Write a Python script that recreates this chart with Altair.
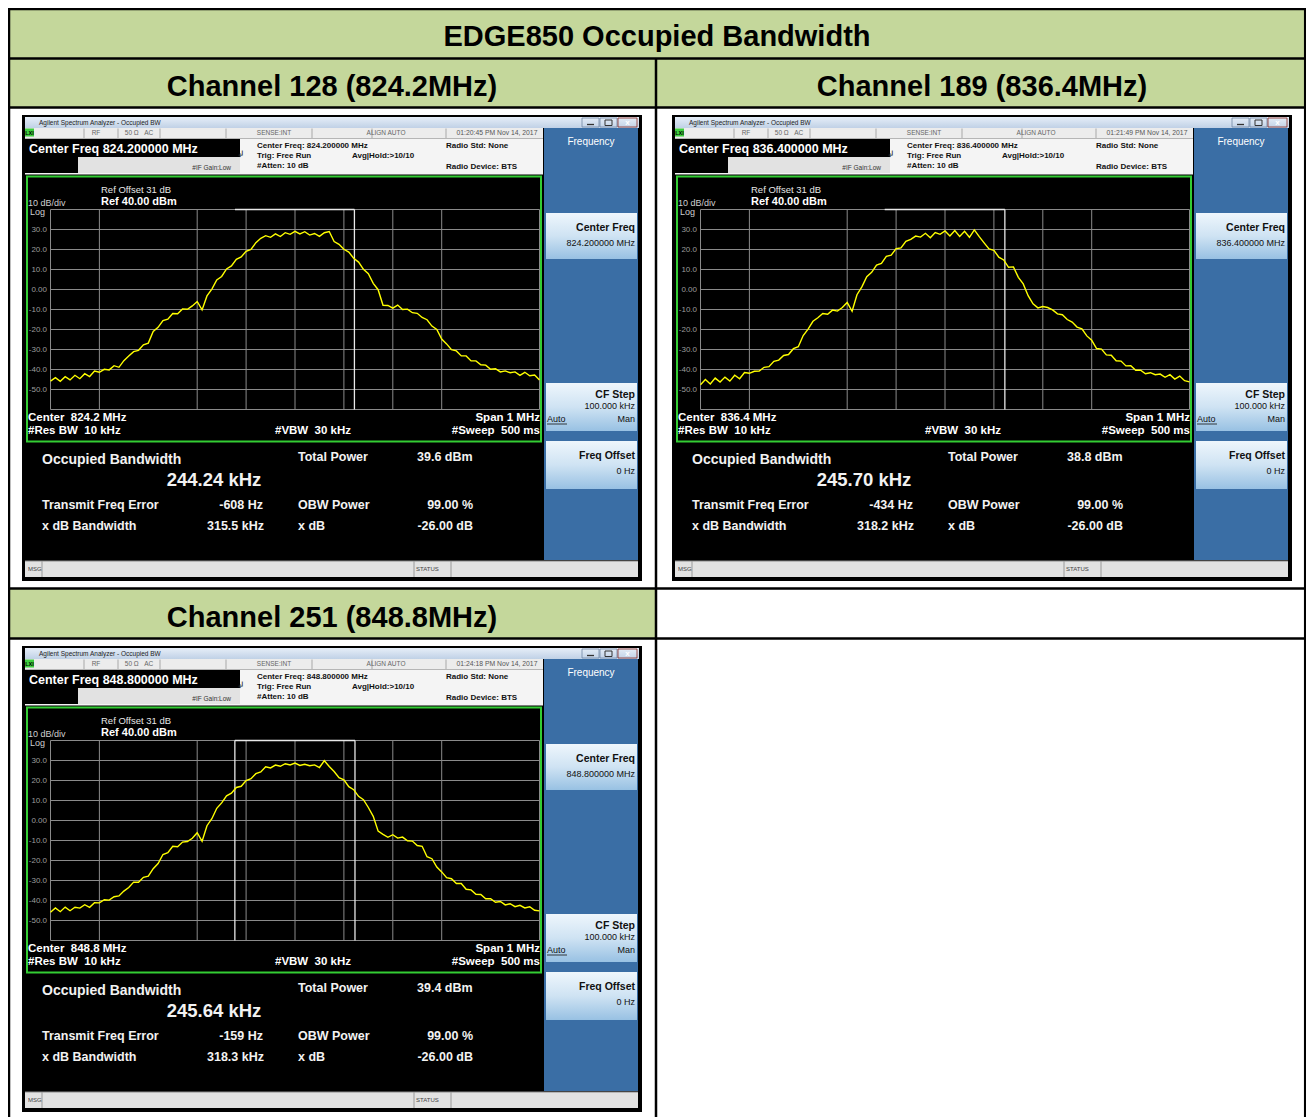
import altair as alt
import pandas as pd

# ------------------------------------------------------------------ data
TABLE_TITLE = "EDGE850 Occupied Bandwidth"
CHANNEL_TITLES = ["Channel 128 (824.2MHz)", "Channel 189 (836.4MHz)", "Channel 251 (848.8MHz)"]
CENTER_FREQ = ["824.200000", "836.400000", "848.800000"]
CENTER_SHORT = ["824.2", "836.4", "848.8"]
TIMESTAMPS = ["01:20:45 PM Nov 14, 2017", "01:21:49 PM Nov 14, 2017", "01:24:18 PM Nov 14, 2017"]
OBW_KHZ = [244.24, 245.70, 245.64]
TOTAL_POWER = ["39.6 dBm", "38.8 dBm", "39.4 dBm"]
FREQ_ERROR_HZ = [-608, -434, -159]
XDB_BW = ["315.5 kHz", "318.2 kHz", "318.3 kHz"]
LEFT_MARKER_SHOWN = [False, False, True]

Y_LABELS = ["30.0", "20.0", "10.0", "0.00", "-10.0", "-20.0", "-30.0", "-40.0", "-50.0"]
Y_LABEL_DB = [30, 20, 10, 0, -10, -20, -30, -40, -50]
V_GRID_MHZ = [-0.5, -0.4, -0.2, -0.1, 0.0, 0.1, 0.2, 0.3, 0.5]
H_GRID_DB = [40, 30, 20, 10, 0, -10, -20, -30, -40, -50, -60]

# frequency offset from centre (MHz), 10 kHz steps across the 1 MHz span
FREQ_OFFSET_MHZ = [round(-0.5 + 0.01 * i, 2) for i in range(101)]

TRACE_CH128 = [
    -45.8, -44.1, -45.9, -43.6, -45.2, -42.9, -44.6, -42.1, -43.5, -40.8,
    -41.4, -39.9, -40.2, -38.1, -38.9, -35.6, -33.2, -31.1, -30.4, -27.7,
    -26.8, -21.0, -18.9, -15.5, -14.8, -12.0, -12.1, -9.7, -9.9, -8.2,
    -6.0, -10.2, -3.2, 0.2, 4.8, 6.5, 10.3, 11.8, 15.1, 16.3,
    19.1, 20.0, 23.4, 25.6, 26.9, 26.1, 27.8, 26.5, 28.4, 27.6,
    29.1, 27.8, 28.9, 27.2, 28.0, 26.6, 28.4, 29.0, 24.0, 22.6,
    20.1, 18.7, 15.6, 13.7, 10.1, 7.9, 3.1, -0.1, -7.9, -8.0,
    -9.3, -7.8, -10.0, -9.8, -11.6, -11.9, -14.0, -15.1, -18.3, -20.0,
    -24.8, -27.2, -30.1, -30.7, -33.2, -33.2, -35.7, -35.7, -37.6, -37.8,
    -39.9, -39.6, -41.2, -40.7, -41.6, -41.2, -42.9, -41.4, -43.1, -42.8,
    -45.3]
TRACE_CH189 = [
    -47.6, -45.0, -47.2, -44.3, -46.3, -43.8, -45.8, -42.9, -44.6, -41.5,
    -41.9, -40.9, -40.8, -38.9, -38.6, -35.9, -35.3, -33.0, -32.5, -29.6,
    -28.6, -23.0, -19.8, -15.9, -14.1, -12.0, -12.4, -10.3, -10.8, -9.0,
    -6.5, -10.9, -2.6, 1.3, 6.4, 8.6, 12.2, 13.1, 16.6, 17.2,
    20.4, 20.8, 24.1, 25.1, 26.7, 26.2, 28.1, 25.9, 28.5, 27.6,
    29.3, 26.8, 29.5, 26.5, 29.1, 26.1, 29.8, 26.4, 23.3, 20.3,
    19.6, 16.2, 14.8, 11.1, 11.3, 6.1, 2.8, -3.1, -7.2, -9.2,
    -8.5, -9.0, -10.2, -12.2, -12.6, -15.0, -16.3, -18.8, -19.7, -23.2,
    -25.4, -29.5, -29.8, -32.7, -32.9, -35.6, -35.8, -38.2, -38.1, -40.4,
    -40.4, -42.1, -41.6, -42.6, -42.3, -43.9, -42.6, -44.8, -43.3, -45.6,
    -46.2]
TRACE_CH251 = [
    -45.9, -43.7, -45.6, -43.3, -45.1, -43.4, -43.8, -42.1, -43.4, -41.1,
    -41.2, -39.6, -39.8, -38.1, -37.7, -35.3, -33.5, -30.8, -30.9, -28.4,
    -27.8, -24.1, -21.5, -17.0, -16.1, -12.9, -13.1, -10.8, -10.5, -8.9,
    -6.1, -10.4, -2.6, 0.9, 6.1, 8.8, 12.3, 13.7, 16.5, 17.1,
    20.0, 20.9, 23.4, 24.3, 26.9, 26.3, 27.7, 27.1, 28.4, 27.8,
    28.7, 27.5, 28.1, 27.4, 27.8, 26.5, 29.9, 27.0, 24.5, 21.4,
    20.3, 16.9, 15.4, 12.1, 10.4, 6.5, 2.1, -5.3, -6.9, -8.4,
    -7.1, -8.8, -8.3, -10.1, -10.3, -12.5, -12.9, -18.1, -19.1, -23.3,
    -25.7, -28.6, -29.1, -31.5, -31.5, -34.4, -34.7, -36.9, -37.0, -39.1,
    -39.1, -40.9, -40.5, -42.2, -41.6, -43.1, -42.4, -43.7, -43.1, -44.9,
    -45.2]
TRACES = [TRACE_CH128, TRACE_CH189, TRACE_CH251]

# ------------------------------------------------------------------ layout
FONT = "Liberation Sans, Arial, Helvetica, sans-serif"
NB = "\u00a0"
W, H = 1298, 1109
X0, Y0 = 8, 8
PX = alt.Scale(domain=[X0, X0 + W], range=[0, W])
PY = alt.Scale(domain=[Y0, Y0 + H], range=[0, H])
GREEN = "#c4d79b"
PANEL_OFFSETS = [(0, 0), (650, 0), (0, 531)]

rects, srects, btns, tbars, rules, texts = [], [], [], [], [], []


def R(x, x2, y, y2, fill):
    rects.append(dict(x=x, x2=x2, y=y, y2=y2, fill=fill))


def S(x, x2, y, y2, stroke, sw):
    srects.append(dict(x=x, x2=x2, y=y, y2=y2, stroke=stroke, sw=sw))


def L(x, x2, y, y2, color, sw):
    rules.append(dict(x=x, x2=x2, y=y, y2=y2, color=color, sw=sw))


def T(x, y, text, size, color, weight="normal", align="left"):
    texts.append(dict(x=x, y=y, text=text, size=size, color=color, weight=weight, align=align))


# table cells
R(8, 1306, 8, 58, GREEN)
R(8, 656, 58, 107, GREEN)
R(656, 1306, 58, 107, GREEN)
R(8, 656, 588, 638, GREEN)
T(657, 37, TABLE_TITLE, 29, "#000", "bold", "center")
T(332, 87, CHANNEL_TITLES[0], 29, "#000", "bold", "center")
T(982, 87, CHANNEL_TITLES[1], 29, "#000", "bold", "center")
T(332, 618, CHANNEL_TITLES[2], 29, "#000", "bold", "center")


def panel(p, dx, dy):
    def r(x, x2, y, y2, fill):
        R(x + dx, x2 + dx, y + dy, y2 + dy, fill)

    def s(x, x2, y, y2, stroke, sw):
        S(x + dx, x2 + dx, y + dy, y2 + dy, stroke, sw)

    def l(x, x2, y, y2, color, sw):
        L(x + dx, x2 + dx, y + dy, y2 + dy, color, sw)

    def t(x, y, text, size, color, weight="normal", align="left"):
        T(x + dx, y + dy, text, size, color, weight, align)

    # window frame
    r(22, 642, 115, 581, "#000000")
    tbars.append(dict(x=25 + dx, x2=639 + dx, y=117 + dy, y2=128 + dy))
    r(27, 35, 118.5, 126.5, "#6d5c3c")
    t(39, 122.5, "Agilent Spectrum Analyzer - Occupied BW", 6.5, "#222")
    r(582, 599, 118, 127, "#c8d7ea")
    r(600, 617, 118, 127, "#c8d7ea")
    r(618, 637, 118, 127, "#c94a3e")
    s(582, 599, 118, 127, "#6f86a3", 0.8)
    s(600, 617, 118, 127, "#6f86a3", 0.8)
    s(618, 637, 118, 127, "#8a2a22", 0.8)
    l(587, 594, 124.5, 124.5, "#333", 1.3)
    s(605, 612, 120, 125.5, "#333", 1)
    t(627.5, 122.5, "x", 8, "#ffffff", "bold", "center")

    # status row
    r(25, 543, 128, 138.5, "#ececec")
    r(25, 34, 128.5, 136.5, "#3fcf3f")
    t(29.5, 132.5, "LXI", 5.5, "#000", "bold", "center")
    for sx in [84, 118, 160, 226, 312, 372, 446]:
        l(sx, sx, 128.5, 138, "#a8a8a8", 1)
    t(96, 133, "RF", 6.5, "#666", "normal", "center")
    t(139, 133, f"50 \u03a9{NB}{NB}{NB}AC", 6.5, "#666", "normal", "center")
    t(274, 133, "SENSE:INT", 6.5, "#666", "normal", "center")
    t(386, 133, "ALIGN AUTO", 6.5, "#666", "normal", "center")
    t(497, 133, TIMESTAMPS[p], 6.8, "#555", "normal", "center")

    # measurement header
    r(25, 543, 138.5, 175, "#f4f4f4")
    r(25, 240, 139, 157, "#000000")
    r(25, 78, 157, 173, "#000000")
    r(78, 240, 157, 173, "#e2e2e2")
    l(25, 543, 174.5, 174.5, "#7a7a7a", 1)
    t(29, 148.5, f"Center Freq {CENTER_FREQ[p]} MHz", 12.5, "#ffffff", "bold")
    t(231, 168, "#IF Gain:Low", 6.5, "#333", "normal", "right")
    t(241, 154, "\u21b2", 9, "#222", "normal", "center")
    t(257, 146, f"Center Freq: {CENTER_FREQ[p]} MHz", 8, "#111", "bold")
    t(257, 156, "Trig: Free Run", 8, "#111", "bold")
    t(352, 156, "Avg|Hold:>10/10", 8, "#111", "bold")
    t(257, 166, "#Atten: 10 dB", 8, "#111", "bold")
    t(446, 146, "Radio Std: None", 8, "#111", "bold")
    t(446, 167, "Radio Device: BTS", 8, "#111", "bold")

    # plot frame and texts
    s(27, 541, 176.5, 441.5, "#33cc33", 2)
    t(101, 190, "Ref Offset 31 dB", 9.5, "#e6e6e6")
    t(101, 202, "Ref 40.00 dBm", 11, "#ffffff", "bold")
    t(28, 203, "10 dB/div", 9, "#cfcfcf")
    t(30, 212, "Log", 9, "#cfcfcf")
    t(28, 418, f"Center{NB}{NB}{CENTER_SHORT[p]} MHz", 11.5, "#ffffff", "bold")
    t(28, 431, f"#Res BW{NB}{NB}10 kHz", 11.5, "#ffffff", "bold")
    t(275, 431, f"#VBW{NB}{NB}30 kHz", 11.5, "#ffffff", "bold")
    t(540, 418, "Span 1 MHz", 11.5, "#ffffff", "bold", "right")
    t(540, 431, f"#Sweep{NB}{NB}500 ms", 11.5, "#ffffff", "bold", "right")

    # results
    wt = "#f2f2f2"
    t(42, 460, "Occupied Bandwidth", 14, wt, "bold")
    t(214, 480, f"{OBW_KHZ[p]:.2f} kHz", 18.5, wt, "bold", "center")
    t(298, 457, "Total Power", 12.5, wt, "bold")
    t(417, 457, TOTAL_POWER[p], 12.5, wt, "bold")
    t(42, 505, "Transmit Freq Error", 12.5, wt, "bold")
    t(263, 505, f"{FREQ_ERROR_HZ[p]} Hz", 12.5, wt, "bold", "right")
    t(298, 505, "OBW Power", 12.5, wt, "bold")
    t(473, 505, "99.00 %", 12.5, wt, "bold", "right")
    t(42, 526, "x dB Bandwidth", 12.5, wt, "bold")
    t(264, 526, XDB_BW[p], 12.5, wt, "bold", "right")
    t(298, 526, "x dB", 12.5, wt, "bold")
    t(473, 526, "-26.00 dB", 12.5, wt, "bold", "right")

    # softkey panel
    r(544, 638, 128, 560, "#3a6ea5")
    for (by, by2) in [(213, 259), (383, 431), (441, 489)]:
        btns.append(dict(x=546 + dx, x2=637 + dx, y=by + dy, y2=by2 + dy))
    t(591, 142, "Frequency", 10, "#ffffff", "normal", "center")
    t(635, 228, "Center Freq", 10.5, "#111", "bold", "right")
    t(635, 243, f"{CENTER_FREQ[p]} MHz", 9, "#111", "normal", "right")
    t(635, 395, "CF Step", 10.5, "#111", "bold", "right")
    t(635, 406, "100.000 kHz", 9, "#111", "normal", "right")
    t(547, 419, "Auto", 9, "#111", "normal", "left")
    l(547, 567, 424, 424, "#111", 0.8)
    t(635, 419, "Man", 9, "#111", "normal", "right")
    t(635, 456, "Freq Offset", 10.5, "#111", "bold", "right")
    t(635, 471, "0 Hz", 9, "#111", "normal", "right")

    # message bar
    r(25, 638, 561, 577, "#e2e2e2")
    l(25, 638, 561, 561, "#8a8a8a", 1)
    for sx in [42, 414, 451]:
        l(sx, sx, 561, 577, "#9a9a9a", 1)
    t(28, 569, "MSG", 6, "#444")
    t(416, 569, "STATUS", 6, "#444")


for p, (dx, dy) in enumerate(PANEL_OFFSETS):
    panel(p, dx, dy)

# table grid lines
for yy, sw in [(8.8, 3), (58.5, 2.5), (107.5, 2.5), (588.5, 2.5), (638.5, 2.5)]:
    L(8, 1306, yy, yy, "#000000", sw)
for xx in [9, 1305.2]:
    L(xx, xx, 8, 1130, "#000000", 2.5)
L(656, 656, 58, 1130, "#000000", 2.5)


def pos():
    return dict(
        x=alt.X("x:Q", scale=PX, axis=None), x2="x2:Q",
        y=alt.Y("y:Q", scale=PY, axis=None), y2="y2:Q")


layers = []
layers.append(alt.Chart(pd.DataFrame(rects)).mark_rect().encode(
    color=alt.Color("fill:N", scale=None), **pos()))

title_grad = alt.Gradient(gradient="linear", x1=0, x2=0, y1=0, y2=1, stops=[
    alt.GradientStop(color="#e6eef8", offset=0), alt.GradientStop(color="#c0d1e6", offset=1)])
layers.append(alt.Chart(pd.DataFrame(tbars)).mark_rect(color=title_grad).encode(**pos()))

btn_grad = alt.Gradient(gradient="linear", x1=0, x2=0, y1=0, y2=1, stops=[
    alt.GradientStop(color="#eef6fc", offset=0), alt.GradientStop(color="#cfe3f3", offset=0.5),
    alt.GradientStop(color="#98c1e3", offset=1)])
layers.append(alt.Chart(pd.DataFrame(btns)).mark_rect(color=btn_grad).encode(**pos()))

layers.append(alt.Chart(pd.DataFrame(srects)).mark_rect(fillOpacity=0).encode(
    stroke=alt.Stroke("stroke:N", scale=None), strokeWidth=alt.StrokeWidth("sw:Q", scale=None), **pos()))

# spectrum plots: one layer per screenshot, on frequency / dB scales
for p, (dx, dy) in enumerate(PANEL_OFFSETS):
    xs = alt.Scale(domain=[-0.5, 0.5], range=[50.5 + dx - X0, 539.5 + dx - X0])
    ys = alt.Scale(domain=[-60, 40], range=[409.5 + dy - Y0, 209.5 + dy - Y0])
    grid = [dict(f1=v, f2=v, d1=-60, d2=40) for v in V_GRID_MHZ] + \
           [dict(f1=-0.5, f2=0.5, d1=h, d2=h) for h in H_GRID_DB]
    err = FREQ_ERROR_HZ[p] / 1e6
    half = OBW_KHZ[p] / 2000.0
    lo, hi = err - half, err + half
    marks = [dict(f1=lo, f2=hi, d1=40, d2=40), dict(f1=hi, f2=hi, d1=-60, d2=40)]
    if LEFT_MARKER_SHOWN[p]:
        marks.append(dict(f1=lo, f2=lo, d1=-60, d2=40))
    gl = alt.Chart(pd.DataFrame(grid)).mark_rule(color="#8a8a8a", strokeWidth=1).encode(
        x=alt.X("f1:Q", scale=xs, axis=None), x2="f2:Q",
        y=alt.Y("d1:Q", scale=ys, axis=None), y2="d2:Q")
    ml = alt.Chart(pd.DataFrame(marks)).mark_rule(color="#e8e8e8", strokeWidth=1.3).encode(
        x=alt.X("f1:Q", scale=xs, axis=None), x2="f2:Q",
        y=alt.Y("d1:Q", scale=ys, axis=None), y2="d2:Q")
    tr = alt.Chart(pd.DataFrame({"f": FREQ_OFFSET_MHZ, "dB": TRACES[p]})).mark_line(
        color="#ffff00", strokeWidth=1.4).encode(
        x=alt.X("f:Q", scale=xs, axis=None), y=alt.Y("dB:Q", scale=ys, axis=None))
    yl = alt.Chart(pd.DataFrame({"db": Y_LABEL_DB, "label": Y_LABELS})).mark_text(
        font=FONT, fontSize=8, color="#9c9c9c", align="right", baseline="middle").encode(
        x=alt.value(47 + dx - X0), y=alt.Y("db:Q", scale=ys, axis=None), text="label:N")
    layers.append(alt.layer(gl, ml, tr, yl))

layers.append(alt.Chart(pd.DataFrame(rules)).mark_rule().encode(
    color=alt.Color("color:N", scale=None), strokeWidth=alt.StrokeWidth("sw:Q", scale=None), **pos()))

tdf = pd.DataFrame(texts)
for (w, a), g in tdf.groupby(["weight", "align"]):
    layers.append(alt.Chart(g.reset_index(drop=True)).mark_text(
        font=FONT, fontWeight=w, align=a, baseline="middle").encode(
        x=alt.X("x:Q", scale=PX, axis=None), y=alt.Y("y:Q", scale=PY, axis=None),
        text="text:N", size=alt.Size("size:Q", scale=None), color=alt.Color("color:N", scale=None)))

chart = alt.layer(*layers).resolve_scale(x="independent", y="independent").properties(
    width=W, height=H, padding=0, autosize=alt.AutoSizeParams(type="none")
).configure_view(strokeWidth=0)

chart.save("out.html", embed_options={"renderer": "svg", "actions": False})
